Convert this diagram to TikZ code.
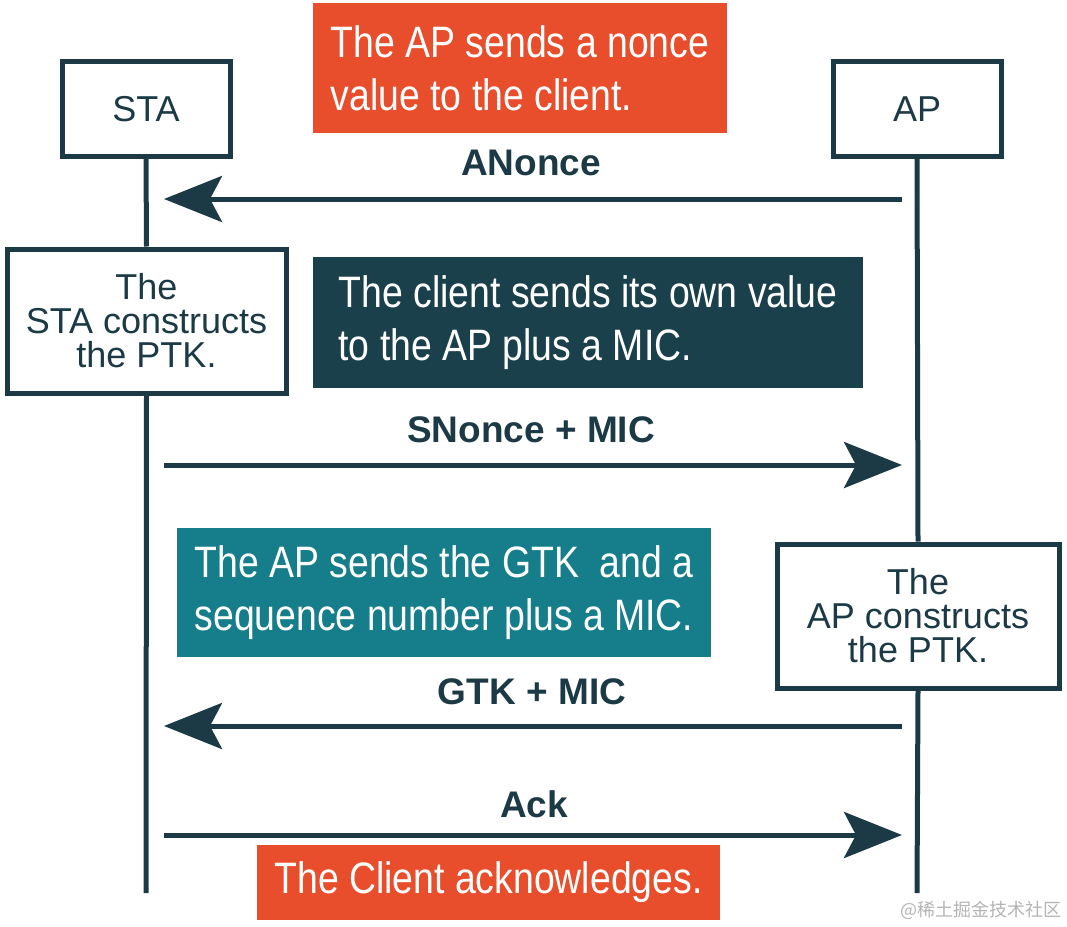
\documentclass[tikz,border=0pt]{standalone}
\usepackage{fontspec}
\setmainfont{Liberation Sans}
\newfontfamily\narrowfont[FakeStretch=0.85]{Liberation Sans}
\newfontfamily\cjkfont{Noto Sans CJK SC}
\usetikzlibrary{arrows.meta}
\definecolor{ink}{HTML}{1B3A45}
\definecolor{orangebox}{HTML}{E84E2C}
\definecolor{darkbox}{HTML}{1A404B}
\definecolor{tealbox}{HTML}{167D8A}
\definecolor{wmgrey}{HTML}{B4B4B4}
\begin{document}
\begin{tikzpicture}[x=1pt,y=-1pt,
  entity/.style={draw=ink, line width=5pt, fill=white, minimum width=168pt, minimum height=95pt, inner sep=0pt, font=\fontsize{36}{36}\selectfont, text=ink},
  ptkbox/.style={draw=ink, line width=5pt, fill=white, inner sep=0pt, align=center, font=\fontsize{36}{34}\selectfont, text=ink},
  note/.style={inner sep=0pt, text=white, align=left, font=\narrowfont\fontsize{44}{53}\selectfont},
  lifeline/.style={draw=ink, line width=5pt},
  msg/.style={draw=ink, line width=5pt, -{Stealth[length=58pt,width=46pt,inset=12pt]}},
  msglabel/.style={text=ink, font=\bfseries\fontsize{37}{37}\selectfont, inner sep=0pt, anchor=base}
]
\useasboundingbox (0,0) rectangle (1067,926);

% entities
\node[entity] (sta) at (146,109) {STA};
\node[entity] (ap) at (917,109) {AP};

% PTK boxes
\node[ptkbox, minimum width=279pt, minimum height=144pt] (staptk) at (146.5,321) {The\\STA constructs\\the PTK.};
\node[ptkbox, minimum width=282pt, minimum height=144pt] (apptk) at (918,616) {The\\AP constructs\\the PTK.};

% lifelines
\coordinate (staend) at (146,893);
\coordinate (apend) at (917,893);
\draw[lifeline] (sta.south) -- (staptk.north);
\draw[lifeline] (staptk.south) -- (staend);
\draw[lifeline] (ap.south) -- (apptk.north);
\draw[lifeline] (apptk.south) -- (apend);

% notes
\node[note, fill=orangebox, minimum width=414pt, minimum height=130pt] (n1) at (520,68) {The AP sends a nonce\\value to the client.};
\node[note, fill=darkbox, minimum width=550pt, minimum height=131pt] (n2) at (588,322.5) {The client sends its own value\\to the AP plus a MIC.};
\node[note, fill=tealbox, minimum width=534pt, minimum height=129pt] (n3) at (444,592.5) {The AP sends the GTK \ and a\\sequence number plus a MIC.};
\node[note, fill=orangebox, minimum width=463pt, minimum height=75pt] (n4) at (488.5,882.5) {The Client acknowledges.};

% messages
\coordinate (m1a) at (902,199);
\coordinate (m1s) at (164,199);
\coordinate (m2s) at (164,465);
\coordinate (m2a) at (902,465);
\coordinate (m3a) at (902,726);
\coordinate (m3s) at (164,726);
\coordinate (m4s) at (164,835);
\coordinate (m4a) at (902,835);
\draw[msg] (m1a) -- (m1s);
\draw[msg] (m2s) -- (m2a);
\draw[msg] (m3a) -- (m3s);
\draw[msg] (m4s) -- (m4a);

% message labels
\node[msglabel] (l1) at (531,175) {ANonce};
\node[msglabel] (l2) at (531,442) {SNonce + MIC};
\node[msglabel] (l3) at (532,704) {GTK + MIC};
\node[msglabel] (l4) at (534,817) {Ack};

% watermark
\node[anchor=east, inner sep=0pt, text=wmgrey, font=\cjkfont\fontsize{18}{18}\selectfont] (wm) at (1062,910) {@稀土掘金技术社区};
\end{tikzpicture}
\end{document}
